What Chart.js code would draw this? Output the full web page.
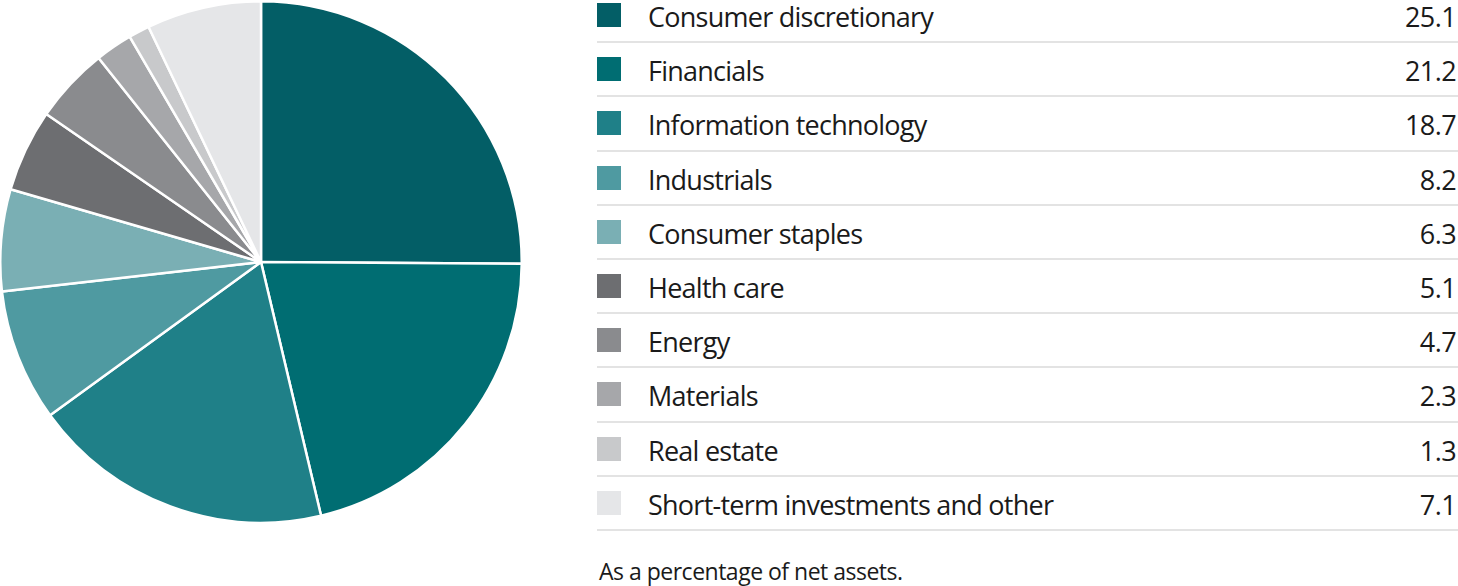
<!DOCTYPE html>
<html>
<head>
<meta charset="utf-8">
<script src="https://cdn.jsdelivr.net/npm/chart.js@4"></script>
<style>
  html, body { margin: 0; padding: 0; background: #fff; }
  body { width: 1458px; height: 586px; position: relative; overflow: hidden;
         font-family: "Open Sans", sans-serif; color: #1a1a1a; }
  #pieWrap { position: absolute; left: -1px; top: 0; width: 524px; height: 524px; }
  #legend { position: absolute; left: 597px; top: -11px; width: 861px; }
  .row { position: relative; height: 54.2px; border-bottom: 2px solid #e3e3e3; box-sizing: border-box; }
  .sw { position: absolute; left: 0; top: 14px; width: 24px; height: 24px; }
  .lbl { position: absolute; left: 51px; top: 11px; font-size: 27px; line-height: 34px; letter-spacing: -0.75px; }
  .val { position: absolute; right: 2px; top: 11px; font-size: 27px; line-height: 34px; letter-spacing: -0.6px; }
  #note { position: absolute; left: 599px; top: 556px; font-size: 23px; line-height: 30px; letter-spacing: -0.5px; }
</style>
</head>
<body>
<div id="pieWrap"><canvas id="pie" width="524" height="524"></canvas></div>
<div id="legend"></div>
<div id="note">As a percentage of net assets.</div>
<script>
const sectors = [
  "Consumer discretionary",
  "Financials",
  "Information technology",
  "Industrials",
  "Consumer staples",
  "Health care",
  "Energy",
  "Materials",
  "Real estate",
  "Short-term investments and other"
];
const weights = [25.1, 21.2, 18.7, 8.2, 6.3, 5.1, 4.7, 2.3, 1.3, 7.1];
const colors = [
  "#035e66", "#006d72", "#1f8088", "#4f9aa1", "#7aafb4",
  "#6d6e71", "#8a8b8e", "#a6a7aa", "#c8c9cb", "#e5e6e8"
];

// legend table on the right
const legend = document.getElementById("legend");
sectors.forEach(function (name, i) {
  const row = document.createElement("div");
  row.className = "row";
  row.innerHTML = '<div class="sw" style="background:' + colors[i] + '"></div>' +
    '<div class="lbl">' + name + '</div>' +
    '<div class="val">' + weights[i].toFixed(1) + '</div>';
  legend.appendChild(row);
});

new Chart(document.getElementById("pie"), {
  type: "pie",
  data: {
    labels: sectors,
    datasets: [{
      data: weights,
      backgroundColor: colors,
      borderColor: "#ffffff",
      borderWidth: 2.5
    }]
  },
  options: {
    responsive: false,
    animation: false,
    layout: { padding: 0 },
    plugins: {
      legend: { display: false },
      tooltip: { enabled: false }
    }
  }
});
</script>
</body>
</html>
